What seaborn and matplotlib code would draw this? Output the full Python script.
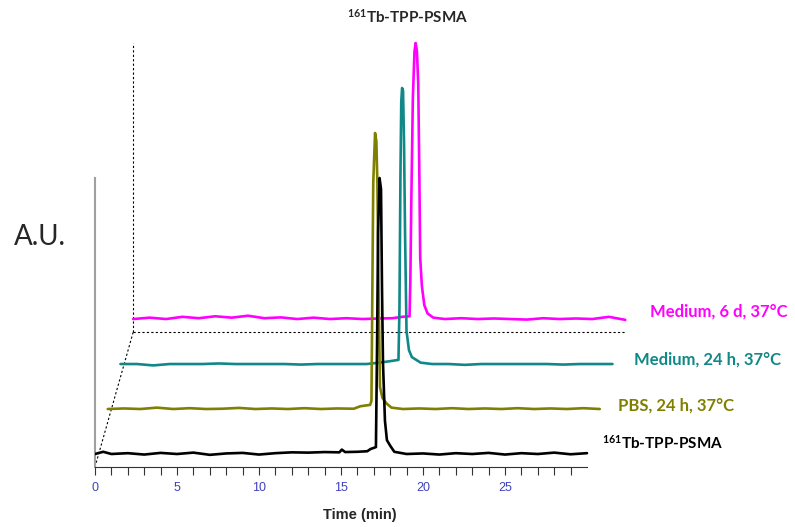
import pandas as pd
import matplotlib.pyplot as plt
import seaborn as sns

# radio-HPLC traces, time in min, signal normalised to peak = 100
t_ref = [0, 0.5, 1, 2, 3, 4, 5, 6, 7, 8, 9, 10, 11, 12, 13, 14, 14.9, 15.05, 15.25, 16, 16.6, 16.8,
         17.13, 17.2, 17.26, 17.35, 17.44, 17.5, 17.56, 17.68, 17.8, 18.0, 18.25, 19, 20, 21, 22,
         23, 24, 25, 26, 27, 28, 29, 30]
s_ref = [0, 0.8, 0, 0.3, -0.2, 0.4, 0, 0.5, -0.3, 0.2, 0.4, -0.2, 0.3, 0.6, 0.5, 0.7, 0.6, 1.6, 0.7,
         0.8, 1.0, 1.8, 2.5, 40, 80, 100, 96, 60, 33, 12, 5, 3, 0.8, 0, 0.2, -0.2, 0.3,
         0, 0.4, -0.2, 0.3, 0, 0.5, -0.1, 0.3]

t_pbs = [0, 1, 2, 3, 4, 5, 6, 7, 8, 9, 10, 11, 12, 13, 14, 15, 15.4, 16.0, 16.08, 16.13, 16.19,
         16.3, 16.38, 16.44, 16.52, 16.6, 16.75, 17.0, 17.3, 18, 19, 20, 21, 22, 23, 24, 25, 26,
         27, 28, 29, 30]
s_pbs = [0, 0.2, 0, 0.5, 0, 0.3, 0, 0.1, 0.4, 0, 0.2, 0, 0.3, 0, 0.2, 0.1, 1.0, 1.5, 3, 40, 82,
         100, 97, 82, 40, 8, 4, 2, 0.5, 0, 0.2, 0, 0.3, 0, 0.2, 0, 0.3, 0, 0.2, 0, 0.3, 0]

t_med24 = [0, 1, 2, 3, 4, 5, 6, 7, 8, 9, 10, 11, 12, 13, 14, 15, 15.8, 16.4, 16.95, 17.01, 17.07,
           17.12, 17.17, 17.23, 17.29, 17.35, 17.44, 17.59, 17.77, 18.3, 19, 20, 21, 22, 23, 24,
           25, 26, 27, 28, 29, 30]
s_med24 = [0, 0, -0.5, 0, 0, 0, 0.2, 0, 0, 0, 0, -0.2, 0, 0, 0, 0, 0.5, 1.0, 1.5, 20, 68, 95, 100,
           99, 80, 48, 12, 5, 2.5, 0.5, 0, 0, -0.3, 0, 0, 0, 0, 0, -0.2, 0, 0, 0]

t_med6d = [0, 1, 2, 3, 4, 5, 6, 7, 8, 9, 10, 11, 12, 13, 14, 15, 15.8, 16.4, 16.85, 16.9, 16.95,
           17.05, 17.15, 17.22, 17.3, 17.38, 17.45, 17.5, 17.6, 17.75, 17.95, 18.3, 19, 20, 21,
           22, 23, 24, 25, 26, 27, 28, 29, 30]
s_med6d = [0, 0.5, 0, 0.8, 0.3, 1.0, 0.5, 1.2, 0.3, 0.6, 0, 0.5, 0, 0.3, 0, 0.2, 0.3, 0.8, 1, 15,
           40, 80, 97, 100, 97, 85, 50, 22, 12, 5, 2, 0.5, 0, 0.3, 0, 0.2, 0, -0.2, 0.3, 0, 0.2,
           0, 0.8, -0.3]

times = [t_ref, t_pbs, t_med24, t_med6d]
signals = [s_ref, s_pbs, s_med24, s_med6d]
names = [r'$^{161}$Tb-TPP-PSMA', 'PBS, 24 h, 37°C', 'Medium, 24 h, 37°C', 'Medium, 6 d, 37°C']
colors = ['#000000', '#808000', '#118888', '#ff00ff']

dx, dy = 0.777, 16.3        # shift per trace (pseudo 3D stacking)
ymin = -4.71
lab_gap = [0.9, 1.1, 1.3, 1.5]
lab_dy = [4.0, 1.1, 1.8, 2.9]

sns.set_style('white')
plt.rcParams['font.family'] = ['Lato', 'DejaVu Sans']
plt.rcParams['mathtext.fontset'] = 'custom'
plt.rcParams['mathtext.rm'] = 'Lato:bold'
plt.rcParams['mathtext.it'] = 'Lato:bold'
plt.rcParams['mathtext.bf'] = 'Lato:bold'

fig = plt.figure(figsize=(7.95, 5.27), dpi=100)
ax = fig.add_axes([95 / 795, 60 / 527, 700 / 795, 467 / 527])
ax.set_xlim(0, 700 / 16.4)
ax.set_ylim(ymin, ymin + 467 / 2.76)

# depth frame (dashed)
kw = dict(color='black', lw=0.8, ls=(0, (2, 2)), zorder=1)
ax.plot([0, 3 * dx], [ymin, ymin + 3 * dy], **kw)
ax.plot([3 * dx, 30 + 3 * dx], [ymin + 3 * dy] * 2, **kw)
ax.plot([3 * dx, 3 * dx], [ymin + 3 * dy, 3 * dy + 100], **kw)

# back to front
for i in [3, 2, 1, 0]:
    df = pd.DataFrame({'t': [v + i * dx for v in times[i]],
                       's': [v + i * dy for v in signals[i]]})
    sns.lineplot(data=df, x='t', y='s', sort=False, estimator=None, color=colors[i],
                 lw=1.9, ax=ax, zorder=3 + (3 - i))
    ax.text(30 + i * dx + lab_gap[i], i * dy + lab_dy[i], names[i], color=colors[i],
            fontsize=12 if i > 0 else 11, fontweight='bold', va='center', ha='left')

for s in ['top', 'right']:
    ax.spines[s].set_visible(False)
ax.spines['bottom'].set_bounds(0, 30)
ax.spines['bottom'].set_color('#333333')
ax.spines['bottom'].set_linewidth(0.8)
ax.spines['left'].set_bounds(ymin, 100)
ax.spines['left'].set_color('#a0a0a0')
ax.spines['left'].set_linewidth(1.5)

ax.set_xticks(range(0, 30, 5))
ax.set_xticks(range(0, 30), minor=True)
ax.set_xticklabels([str(v) for v in range(0, 30, 5)], fontfamily='Liberation Sans', fontsize=9)
ax.tick_params(axis='x', which='both', bottom=True, direction='out', length=6, width=0.8,
               color='#333333', labelcolor='#4040c0', pad=5)
ax.set_yticks([])
ax.set_xlabel('')
ax.set_ylabel('')

fig.text(408 / 795, 1 - 17 / 527, r'$^{161}$Tb-TPP-PSMA', ha='center', va='center',
         fontsize=11, fontweight='bold')
fig.text(360 / 795, 1 - 515 / 527, 'Time (min)', ha='center', va='center', fontsize=10.5,
         fontweight='bold', fontfamily='Liberation Sans')
fig.text(14 / 795, 1 - 237 / 527, 'A.U.', ha='left', va='center', fontsize=20)

fig.savefig('out.png', dpi=100)
